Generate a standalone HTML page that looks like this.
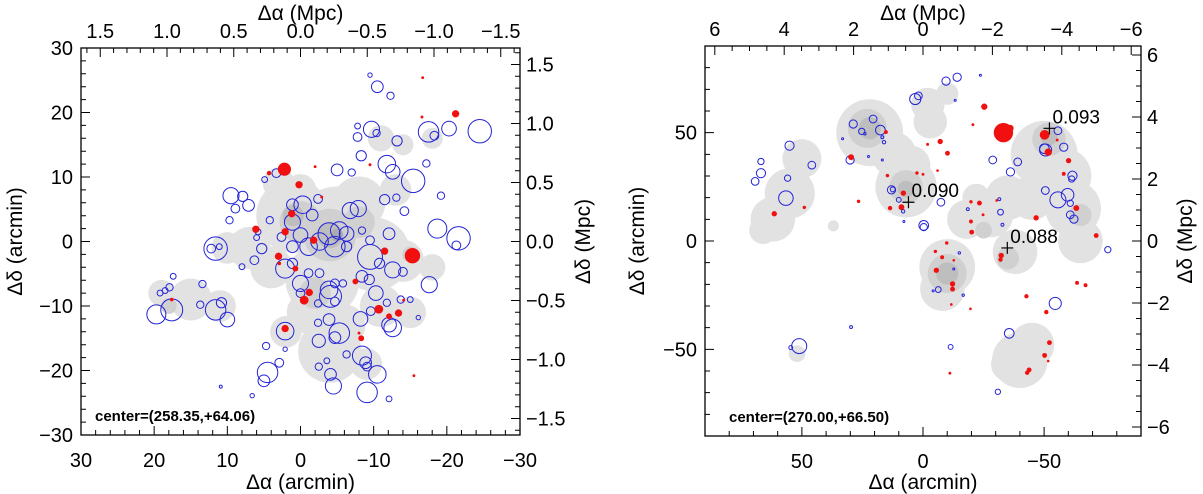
<!DOCTYPE html>
<html><head><meta charset="utf-8"><style>
html,body{margin:0;padding:0;background:#fff}
svg{display:block}
text{font-family:"Liberation Sans",sans-serif;fill:#000}
</style></head><body>
<svg id="fig" width="1203" height="494" viewBox="0 0 1203 494" xmlns="http://www.w3.org/2000/svg"></svg>
<script>
// ---------- LEFT PANEL DATA (arcmin) ----------
const leftBlueX=[-9.5,-10.5,-12.3,-7.8,-9.7,-10.4,-7.8,-13.2,-17.5,-18.3,-20.3,-24.5,-8.3,-11.8,-12.6,-15.4,-17.2,-5,-7,3.3,4.9,9.5,7.9,7.1,8.9,9.7,1.1,-0.3,-2.4,-6.8,-7.9,-11.5,-13.1,-14.2,-19.2,-1.6,1.1,4.2,-3.9,-5.3,-6.3,-2.6,-4.7,-1.1,0,1.1,2.6,-6.3,-8.4,-9.5,-12.1,-18.7,-21.6,-21.3,-9.5,-12.6,-14,-17.6,6.3,5.3,5.8,6.0,11.6,12.2,11.1,8,2.1,1.1,0,-1.1,-2.6,-3.9,-4.1,-4.7,-5.8,-8.4,-9.4,-10.3,-10.8,0,-2.4,-4.7,-9.6,-11.8,-13.7,-15,-16.1,-12.1,-12.6,-8.2,-3.9,-2.4,-5.3,-4.7,-2.5,2.1,4.7,2.1,-6.3,-8.4,-8.9,-9.1,-10.5,-3.6,-2.5,-4.1,-4.5,2.9,4.5,5,-9.1,-12.1,6.6,10.9,19.2,17.9,17.4,18.5,19.7,17.6,13.7,13.4,11.6,10,10.8];
const leftBlueY=[25.8,24,22.6,17.9,17.4,16.8,16.2,15.6,17,16.4,17.5,17.1,13.3,12,10.8,9.4,12.1,11.1,10.7,10.6,9.6,7.1,7,5.6,5.1,3.3,5.7,5.7,6.6,4.8,5.1,6.5,6.8,4.7,7.1,4.1,3,3.3,1.2,1.7,1.2,0,-0.8,-0.8,1,-0.8,0.7,-0.8,1.7,0.2,1.2,2,0.5,-0.6,-2.4,-4.4,-4.7,-6.7,-2.9,-1.1,1.5,0.6,-1.1,-1.1,-0.8,-3.9,-4.2,-3.4,-6.5,-4.9,-4.9,-7.5,-8.5,-6.5,-6.5,-5.4,-5.9,-8,-3.4,-8,-9.6,-9.3,-10.8,-9.5,-9,-9,-11.8,-12.9,-13.4,-12,-12.1,-12.6,-14.2,-14.9,-15.4,-13.9,-16.2,-16.7,-17.5,-17.7,-18.8,-19.4,-20.6,-18.5,-19.4,-20.6,-22.4,-18.8,-20.3,-21.6,-23.4,-24.4,-23.9,-22.5,-8,-7.1,-5.4,-7.6,-11.3,-10.6,-9.8,-6.6,-10.6,-12.1,-9.5];
const leftBlueR=[0.3,0.8,0.5,0.4,1.1,0.5,0.6,0.7,1.4,0.6,1.0,1.6,0.7,1.2,1.0,1.6,0.5,0.8,0.5,0.6,0.4,1.1,0.7,0.8,0.6,0.5,0.8,1.2,0.6,1.1,1.1,0.7,0.5,0.6,0.5,0.8,1.1,0.5,1.5,1.2,1.0,1.2,1.4,1.2,1.0,0.8,0.6,0.7,0.5,0.6,0.8,1.3,1.6,0.6,1.7,1.1,0.6,1.1,0.6,0.7,0.4,0.4,1.6,0.6,0.4,0.4,1.3,0.7,1.1,0.6,0.6,1.2,1.5,0.6,0.5,0.8,0.7,1.0,0.7,0.6,0.5,0.6,0.6,0.5,0.5,0.4,0.3,1.0,1.2,1.0,0.8,0.5,1.4,0.8,0.9,1.2,0.5,0.3,0.5,1.3,0.8,0.6,1.2,0.4,0.5,0.8,1.1,0.6,1.4,0.8,1.4,0.4,0.3,0.2,0.4,0.5,0.4,0.4,1.3,1.5,0.5,0.5,1.4,1.0,0.7];
const leftRedX=[2.2,-15.3,4.3,0.2,-2,-9.5,-16.7,-16.6,-21.2,-2.9,1.2,6.1,2.1,-1.8,3,2.9,0.7,-11.5,-7.5,-1.2,-0.5,-10.7,-12.1,-13.4,-14.1,2.1,-8,-8.3,-15.5,17.6];
const leftRedY=[11.2,-2.2,10.6,8.8,11.6,11.9,25.4,19.3,19.8,6.9,4.3,1.9,1.5,0.2,-2.3,-3.4,-4.2,-1.5,-6.2,-7.9,-9.1,-10.5,-11.6,-11.1,-9.1,-13.5,-14.2,-15,-20.8,-9];
const leftRedR=[0.9,1.05,0.3,0.5,0.2,0.2,0.2,0.2,0.5,0.2,0.5,0.5,0.5,0.5,0.5,0.25,0.4,0.5,0.4,0.5,0.6,0.6,0.4,0.5,0.2,0.5,0.2,0.4,0.2,0.25];
const leftDensX=[3,1,-5,-10,-3,7,10,-14,-18,-11,-15,-4,-9,2,15,19,11,-8,-13,-11,-18,-14,-1,4,-6,0,
                 0,-4,-8,-2,-15,18, -4,1, -5];
const leftDensY=[9,4,2,-2,-6,-1,-1,-3,-4,-10,-11,-17,-19,-14,-9,-8,-10,6,8,16,16,15,-11,-4,-13,8,
                 3,1,3,-8,-2,-10, 1,4, 1];
const leftDensR=[3,7,8,7,7,4,3,4,2.5,4,3,6,3,3,4,2.5,3,5,3,2.5,2,2,4,4,4,3,
                 4,5,3,3,1.5,1.5, 2.5,2, 1.2];
const leftDensL=[1,1,1,1,1,1,1,1,1,1,1,1,1,1,1,1,1,1,1,1,1,1,1,1,1,1,
                 2,2,2,2,2,2, 3,3, 4];
const leftXTicks=[30,20,10,0,-10,-20,-30];
const leftXTickLabels=["30","20","10","0","\u221210","\u221220","\u221230"];
const leftYTicks=[30,20,10,0,-10,-20,-30];
const leftYTickLabels=["30","20","10","0","\u221210","\u221220","\u221230"];
const leftTopTicks=[1.5,1.0,0.5,0.0,-0.5,-1.0,-1.5];
const leftTopTickLabels=["1.5","1.0","0.5","0.0","\u22120.5","\u22121.0","\u22121.5"];
const leftRightTicks=[1.5,1.0,0.5,0.0,-0.5,-1.0,-1.5];
const leftRightTickLabels=["1.5","1.0","0.5","0.0","\u22120.5","\u22121.0","\u22121.5"];

// ---------- RIGHT PANEL DATA (arcmin) ----------
const rightBlueX=[-14.1,-9.5,-23.7,3.2,1.9,-13.3,28.8,20.6,25.3,17.6,24,16.8,16.1,33.2,30.1,22.5,16.8,13,12.5,10,8.2,7.9,-7.4,-0.3,-0.3,-18.5,-31.5,-32,-32.8,-28.8,-36.1,-39.1,-50.6,-50.1,-55.7,-58.1,-61.7,-61.4,-50.5,-55.7,-59.7,-60.8,-60.8,-62.3,-76.3,-6.3,-4.2,-12.7,-15,-16.6,-54.6,-35.6,-11.4,29.7,51.1,54.6,-30.9,69.3,66.9,66.9,55.9,55.1,45.9,56.6];
const rightBlueY=[75.6,73.8,76.5,65.5,67,64.9,54,56.3,50.6,51.2,49.5,47.9,45.6,47.2,37.4,39,37.4,23.6,23.8,19,13.7,9,17.9,7.2,6.4,14.7,19.3,13.3,7.5,37.4,31.9,36.5,42,42.6,50.9,43.3,30.1,28.6,23.3,19,21.3,17.4,12.1,10.1,-4,-22.4,-23,-12.9,-5.5,-25,-28.8,-42.6,-48.9,-39.7,-48.5,-49.2,-69.6,27.5,36.7,31.3,29,44,35,19.8];
const rightBlueR=[1.7,1.7,0.3,2.3,1.6,0.4,1.7,1.6,1.3,2,0.5,0.6,0.7,0.2,1.7,0.3,0.4,1.7,1,1,0.7,0.3,1.6,2,1.5,0.6,0.6,1.2,0.6,1.6,1.7,1.6,2.5,2,1.6,1.7,1.9,1.3,1.6,3.3,2.6,1.3,1.6,1.7,1.3,1.2,0.4,0.4,0.5,0.5,2.5,2,1,0.6,3.1,0.8,1.1,1.6,1.3,1.9,1.3,1.9,1.6,3];
const rightRedX=[-33.2,-35.9,-50.2,-51.7,-25.3,-20.6,-7.1,-10.1,-1.9,15.3,29.7,14.7,2.5,0,-6,8.1,8.9,13.6,26.6,49,61.4,-19.8,-23.3,-30.4,-24.8,-19.8,-20.1,-32.3,-32,-5.1,-9.8,-7.9,-12.7,-5.5,-12.2,-12.2,-11.7,-19.6,-46.7,-42.7,-50.9,-58.1,-60.1,-55.4,-63.3,-71.5,-63.6,-67.1,-52.2,-50.2,-51.7,-43.8,-43,-11.1];
const rightRedY=[50,52,49,41,62,53.7,45.9,40.5,44.6,50.3,38.7,30.2,31.4,30.8,32.5,22.1,15.6,15.2,18.3,15.5,12.6,18.1,17.5,18.7,12.1,9,4.1,-6.7,-8.6,-4.8,-0.9,-7.5,-8.9,-13.5,-19.8,-22.2,-29.3,-31.3,10.7,-25.5,-32.8,31,37.1,46.6,15.2,2.5,-19.3,-20.4,-46.9,-52.8,-55.4,-59.5,-60.8,-61];
const rightRedR=[4,1.5,2,1.5,1.3,0.6,1.1,1,0.6,0.8,1.2,0.7,0.7,0.6,0.5,1.1,1.2,0.9,0.7,0.7,1.1,0.7,1,0.5,0.6,0.8,1,1.1,0.9,0.7,0.7,0.8,0.5,1.1,1.1,1,0.5,0.5,1.1,0.9,0.9,0.8,1.1,0.6,1.2,1,0.8,0.8,1,1,0.5,1,0.9,0.6];
const rightDensX=[62,55,50,66,37,52,22,12,7,-2,-10,5,-10,-8,-18,-28,-35,-38,-45,-50,-58,-62,-65,-40,-45,-35,-22,-3,
                  23,7,-10,-52,-35,-65,-25, 22,7,-10,-52];
const rightDensY=[10,22,38,5,7,-52,50,40,25,63,68,35,-12,-22,10,12,20,-5,20,40,30,15,0,-55,-48,-57,20,55,
                  52,25,-15,47,-8,12,5, 52,24,-15,48];
const rightDensR=[8,9,7,5,2,3,12,8,11,6,4,7,10,8,7,8,8,8,8,12,10,10,8,10,8,6,5,6,
                  7,6,7,6,4,4,3, 4,3,4,3];
const rightDensL=[1,1,1,1,1,1,1,1,1,1,1,1,1,1,1,1,1,1,1,1,1,1,1,1,1,1,1,1,
                  2,2,2,2,2,2,2, 3,3,3,3];
const rightPeakX=[6,-52.2,-34.8];
const rightPeakY=[17.9,52,-3.2];
const rightPeakLabels=["0.090","0.093","0.088"];
const rightXTicks=[50,0,-50];
const rightXTickLabels=["50","0","\u221250"];
const rightYTicks=[50,0,-50];
const rightYTickLabels=["50","0","\u221250"];
const rightTopTicks=[6,4,2,0,-2,-4,-6];
const rightTopTickLabels=["6","4","2","0","\u22122","\u22124","\u22126"];
const rightRightTicks=[6,4,2,0,-2,-4,-6];
const rightRightTickLabels=["6","4","2","0","\u22122","\u22124","\u22126"];

const NS="http://www.w3.org/2000/svg";
const svg=document.getElementById('fig');
function mk(tag,attrs,parent){const e=document.createElementNS(NS,tag);for(const k in attrs)e.setAttribute(k,attrs[k]);(parent||svg).appendChild(e);return e;}

function panel(cfg){
  const g=mk('g',{});
  
  
  const sx=v=>cfg.x0+(cfg.xmax-v)/(cfg.xmax-cfg.xmin)*(cfg.x1-cfg.x0);
  const sy=v=>cfg.y0+(cfg.ymax-v)/(cfg.ymax-cfg.ymin)*(cfg.y1-cfg.y0);
  const pxPer=(cfg.x1-cfg.x0)/(cfg.xmax-cfg.xmin);
  const sxT=v=>sx(0)-v*cfg.mpcX;
  const syR=v=>sy(0)-v*cfg.mpcY;
  const cols={1:'#e2e2e2',2:'#d0d0d0',3:'#bebebe',4:'#acacac'};
  const dg=mk('g',{},g);
  
  
  for(const lvl of [1,2,3,4]){
    for(let i=0;i<cfg.dX.length;i++){ if(cfg.dL[i]!==lvl)continue;
      const c=mk('circle',{cx:sx(cfg.dX[i]),cy:sy(cfg.dY[i]),r:cfg.dR[i]*pxPer*cfg.dScale,fill:cols[lvl]},dg);
      
      
    }
  }
  for(let i=0;i<cfg.bX.length;i++){
    const c=mk('circle',{cx:sx(cfg.bX[i]),cy:sy(cfg.bY[i]),r:Math.max(1,cfg.bR[i]*pxPer),fill:'none',stroke:'#2424d8','stroke-width':1},g);
    
    
  }
  for(let i=0;i<cfg.rX.length;i++){
    const c=mk('circle',{cx:sx(cfg.rX[i]),cy:sy(cfg.rY[i]),r:Math.max(1.3,cfg.rR[i]*pxPer),fill:'#f01010'},g);
    
    
  }
  if(cfg.pX){
    for(let i=0;i<cfg.pX.length;i++){
      const x=sx(cfg.pX[i]),y=sy(cfg.pY[i]);
      const p=mk('path',{d:`M${x-6},${y}H${x+6}M${x},${y-6}V${y+6}`,stroke:'#000','stroke-width':1.2},g);
      
      
      const t=mk('text',{x:x+3,y:y-5,'font-size':19},g);
      t.textContent=cfg.pL[i];
      
      
    }
  }
  const fr=mk('rect',{x:cfg.x0,y:cfg.y0,width:cfg.x1-cfg.x0,height:cfg.y1-cfg.y0,fill:'none',stroke:'#000','stroke-width':1.3},g);
  
  
  let d='';
  for(let v=cfg.xmin;v<=cfg.xmax+1e-9;v+=cfg.xMinor){const x=sx(v);const maj=Math.abs(v/cfg.xMajor-Math.round(v/cfg.xMajor))<1e-6;d+=`M${x},${cfg.y1}v${maj?-9:-5}`;}
  for(let v=cfg.ymin;v<=cfg.ymax+1e-9;v+=cfg.yMinor){const y=sy(v);const maj=Math.abs(v/cfg.yMajor-Math.round(v/cfg.yMajor))<1e-6;d+=`M${cfg.x0},${y}h${maj?9:5}`;}
  for(let v=-cfg.mpcXMax;v<=cfg.mpcXMax+1e-9;v+=cfg.mpcXMinor){const x=sxT(v);if(x<cfg.x0-0.5||x>cfg.x1+0.5)continue;const maj=Math.abs(v/cfg.mpcXMajor-Math.round(v/cfg.mpcXMajor))<1e-6;d+=`M${x},${cfg.y0}v${maj?9:5}`;}
  for(let v=-cfg.mpcYMax;v<=cfg.mpcYMax+1e-9;v+=cfg.mpcYMinor){const y=syR(v);if(y<cfg.y0-0.5||y>cfg.y1+0.5)continue;const maj=Math.abs(v/cfg.mpcYMajor-Math.round(v/cfg.mpcYMajor))<1e-6;d+=`M${cfg.x1},${y}h${maj?-9:-5}`;}
  const tk=mk('path',{d:d,stroke:'#000','stroke-width':1,fill:'none'},g);
  
  
  cfg.xT.forEach((v,i)=>{const t=mk('text',{x:sx(v),y:cfg.y1+32,'font-size':20,'text-anchor':'middle'},g);t.textContent=cfg.xTL[i];
    
    });
  cfg.yT.forEach((v,i)=>{const t=mk('text',{x:cfg.x0-8,y:sy(v)+7,'font-size':20,'text-anchor':'end'},g);t.textContent=cfg.yTL[i];
    
    });
  cfg.tT.forEach((v,i)=>{const t=mk('text',{x:sxT(v),y:cfg.y0-10,'font-size':20,'text-anchor':'middle'},g);t.textContent=cfg.tTL[i];
    
    });
  cfg.rT.forEach((v,i)=>{const t=mk('text',{x:cfg.x1+6,y:syR(v)+7,'font-size':20,'text-anchor':'start'},g);t.textContent=cfg.rTL[i];
    
    });
  const cx=(cfg.x0+cfg.x1)/2, cy=(cfg.y0+cfg.y1)/2;
  let t=mk('text',{x:cx,y:489,'font-size':21,'text-anchor':'middle'},g);t.textContent='\u0394\u03b1 (arcmin)';
  
  t=mk('text',{x:cx,y:20,'font-size':21,'text-anchor':'middle'},g);t.textContent='\u0394\u03b1 (Mpc)';
  
  t=mk('text',{x:0,y:0,'font-size':21,'text-anchor':'middle',transform:`translate(${cfg.ltx},${cy}) rotate(-90)`},g);t.textContent='\u0394\u03b4 (arcmin)';
  
  t=mk('text',{x:0,y:0,'font-size':21,'text-anchor':'middle',transform:`translate(${cfg.rtx},${cy}) rotate(-90)`},g);t.textContent='\u0394\u03b4 (Mpc)';
  
  t=mk('text',{x:cfg.cTx,y:cfg.y1-14,'font-size':15,'font-weight':'bold'},g);t.textContent=cfg.center;
  
}

panel({name:'left-panel',x0:81,x1:520,y0:48,y1:435,xmin:-30,xmax:30,ymin:-30,ymax:30,dScale:0.72,
  xMinor:2,xMajor:10,yMinor:2,yMajor:10,mpcX:133.5,mpcY:118,mpcXMax:1.6,mpcXMinor:0.1,mpcXMajor:0.5,mpcYMax:1.7,mpcYMinor:0.1,mpcYMajor:0.5,
  bX:leftBlueX,bY:leftBlueY,bR:leftBlueR,rX:leftRedX,rY:leftRedY,rR:leftRedR,dX:leftDensX,dY:leftDensY,dR:leftDensR,dL:leftDensL,
  xT:leftXTicks,xTL:leftXTickLabels,yT:leftYTicks,yTL:leftYTickLabels,tT:leftTopTicks,tTL:leftTopTickLabels,rT:leftRightTicks,rTL:leftRightTickLabels,
  ltx:22,rtx:590,cTx:95,center:'center=(258.35,+64.06)'});
panel({name:'right-panel',x0:705,x1:1141,y0:46,y1:436,xmin:-90,xmax:90,ymin:-90,ymax:90,dScale:1.15,
  xMinor:10,xMajor:50,yMinor:10,yMajor:50,mpcX:34.7,mpcY:31,mpcXMax:6.5,mpcXMinor:0.5,mpcXMajor:2,mpcYMax:6.5,mpcYMinor:0.5,mpcYMajor:2,
  bX:rightBlueX,bY:rightBlueY,bR:rightBlueR,rX:rightRedX,rY:rightRedY,rR:rightRedR,dX:rightDensX,dY:rightDensY,dR:rightDensR,dL:rightDensL,
  pX:rightPeakX,pY:rightPeakY,pL:rightPeakLabels,
  xT:rightXTicks,xTL:rightXTickLabels,yT:rightYTicks,yTL:rightYTickLabels,tT:rightTopTicks,tTL:rightTopTickLabels,rT:rightRightTicks,rTL:rightRightTickLabels,
  ltx:644,rtx:1192,cTx:729,center:'center=(270.00,+66.50)'});
</script>
</body></html>
